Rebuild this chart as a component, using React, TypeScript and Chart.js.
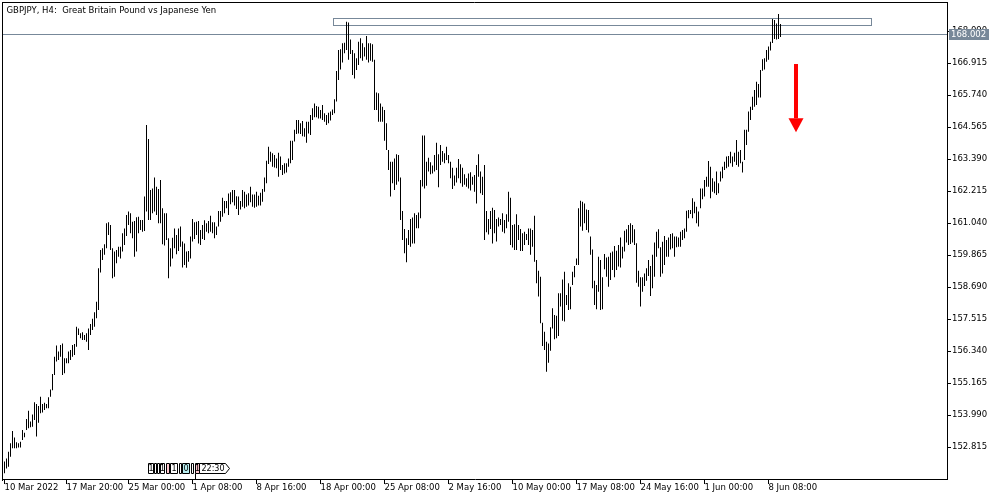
import React, { useEffect, useRef } from "react";
import { Chart, registerables } from "chart.js";

Chart.register(...registerables);

// ---- Data (GBPJPY H4, bar highs and lows) ----
const HIGHS = [
  152.28, 152.39, 152.64, 152.95, 153.40, 153.16, 152.99, 152.95, 153.01, 153.44,
  153.34, 153.84, 154.15, 153.75, 154.01, 154.46, 154.39, 154.32, 154.66, 154.39,
  154.44, 154.39, 154.64, 154.93, 155.50, 156.13, 156.54, 156.32, 156.56, 156.62,
  156.07, 156.07, 156.32, 156.38, 156.56, 156.60, 157.23, 157.17, 156.99, 157.03,
  156.93, 156.99, 157.17, 157.33, 157.52, 157.76, 158.15, 159.38, 160.05, 160.11,
  160.26, 161.03, 161.07, 160.97, 160.11, 159.99, 160.05, 160.17, 160.17, 160.66,
  160.84, 161.33, 161.46, 161.40, 161.09, 161.11, 161.25, 161.27, 161.15, 161.15,
  162.01, 164.64, 164.12, 162.25, 162.31, 162.71, 162.37, 162.29, 162.62, 161.58,
  161.40, 161.40, 160.48, 160.11, 160.50, 160.84, 160.60, 160.84, 160.91, 160.36,
  160.29, 159.99, 160.01, 160.54, 161.19, 161.07, 161.09, 161.11, 160.78, 160.97,
  161.14, 161.03, 161.11, 161.31, 161.07, 161.07, 160.91, 161.48, 161.48, 161.97,
  161.85, 161.85, 162.12, 162.17, 162.25, 162.25, 162.02, 162.01, 161.85, 162.25,
  162.19, 162.09, 162.13, 162.37, 162.09, 162.09, 162.19, 162.04, 162.15, 162.29,
  162.71, 163.33, 163.84, 163.66, 163.60, 163.54, 163.41, 163.62, 163.48, 163.17,
  163.23, 163.23, 163.41, 164.06, 164.06, 164.46, 164.82, 164.82, 164.70, 164.79,
  164.52, 164.76, 164.76, 165.01, 165.25, 165.43, 165.34, 165.31, 165.19, 165.37,
  165.07, 165.01, 165.09, 165.13, 165.21, 165.58, 166.62, 167.39, 167.42, 167.64,
  167.66, 168.43, 168.40, 167.78, 167.39, 167.27, 167.09, 167.70, 167.82, 167.64,
  167.49, 167.91, 167.64, 167.64, 167.60, 167.03, 165.83, 165.80, 165.43, 165.31,
  165.19, 164.70, 163.72, 163.29, 163.29, 163.41, 163.56, 163.54, 162.71, 161.48,
  160.82, 160.48, 160.78, 161.19, 161.24, 161.40, 161.33, 161.43, 162.62, 164.25,
  164.25, 163.29, 163.44, 163.27, 163.15, 163.54, 163.99, 163.56, 163.90, 163.68,
  163.60, 163.84, 163.54, 163.29, 163.07, 162.78, 163.07, 163.39, 163.20, 163.07,
  162.83, 162.68, 162.86, 162.90, 162.74, 162.80, 163.17, 163.56, 162.93, 162.74,
  163.17, 161.48, 161.19, 161.48, 161.60, 161.52, 161.19, 161.24, 161.19, 161.40,
  161.15, 161.36, 162.19, 161.97, 160.97, 160.99, 161.36, 160.97, 160.82, 160.66,
  160.72, 160.64, 160.84, 160.84, 160.78, 161.31, 159.68, 159.29, 159.07, 157.38,
  157.05, 156.68, 156.62, 157.21, 157.91, 157.66, 157.63, 158.46, 158.46, 158.97,
  159.25, 158.40, 158.83, 158.70, 159.25, 159.46, 159.74, 161.58, 161.86, 161.82,
  161.76, 161.54, 161.52, 160.54, 160.07, 158.92, 158.76, 159.80, 159.68, 159.05,
  159.90, 159.77, 159.80, 159.95, 159.99, 160.20, 160.02, 160.23, 160.51, 160.17,
  160.76, 160.81, 160.97, 161.03, 160.97, 160.81, 160.30, 159.29, 159.05, 159.05,
  159.19, 159.38, 159.68, 159.46, 159.87, 160.32, 160.72, 160.81, 160.15, 160.35,
  160.56, 160.42, 160.51, 160.64, 160.66, 160.54, 160.54, 160.51, 160.72, 160.78,
  160.84, 161.49, 161.52, 161.52, 161.95, 161.82, 161.64, 161.46, 162.31, 162.31,
  162.62, 162.74, 163.32, 163.11, 162.68, 162.56, 162.93, 162.50, 162.93, 163.11,
  163.29, 163.48, 163.50, 163.66, 163.48, 163.62, 164.09, 163.66, 163.72, 163.29,
  164.46, 164.46, 165.13, 165.31, 165.68, 165.92, 166.23, 166.14, 166.66, 167.05,
  167.09, 167.39, 167.52, 167.70, 168.53, 168.49, 168.37, 168.71, 168.35,
];

const LOWS = [
  151.85, 152.03, 152.09, 152.46, 152.77, 152.77, 152.77, 152.80, 152.80, 153.07,
  153.17, 153.44, 153.50, 153.54, 153.56, 153.81, 153.20, 153.71, 154.05, 154.08,
  154.17, 154.24, 154.24, 154.66, 154.90, 155.46, 155.95, 156.01, 156.13, 155.46,
  155.52, 155.89, 155.89, 156.01, 156.13, 156.19, 156.50, 156.93, 156.81, 156.74,
  156.74, 156.68, 156.38, 156.93, 157.11, 157.23, 157.54, 157.85, 159.22, 159.68,
  159.87, 160.11, 160.60, 160.05, 159.01, 159.07, 159.56, 159.80, 159.74, 159.99,
  160.23, 160.56, 160.97, 160.66, 160.48, 159.80, 159.99, 160.66, 160.78, 160.72,
  160.75, 161.46, 161.15, 161.15, 161.40, 161.46, 161.33, 161.03, 161.03, 160.26,
  160.21, 160.42, 159.01, 159.44, 159.74, 160.11, 159.89, 160.01, 160.17, 159.41,
  159.50, 159.40, 159.62, 159.74, 160.36, 160.45, 160.60, 160.29, 160.23, 160.45,
  160.42, 160.72, 160.66, 160.72, 160.66, 160.48, 160.60, 160.91, 161.09, 161.27,
  161.40, 161.58, 161.33, 161.73, 161.80, 161.68, 161.55, 161.33, 161.54, 161.64,
  161.58, 161.64, 161.68, 161.80, 161.64, 161.60, 161.64, 161.68, 161.68, 161.82,
  162.19, 162.50, 163.21, 163.29, 163.11, 163.08, 163.05, 162.74, 162.99, 162.80,
  162.86, 162.89, 163.11, 163.23, 163.35, 164.03, 164.31, 164.33, 164.31, 164.23,
  164.21, 163.99, 164.33, 164.27, 164.82, 164.92, 164.92, 164.88, 164.88, 164.82,
  164.76, 164.64, 164.70, 164.80, 165.01, 165.07, 165.50, 166.29, 166.68, 166.93,
  167.27, 167.39, 167.03, 167.25, 166.47, 166.35, 166.66, 166.84, 167.09, 167.00,
  167.15, 167.03, 166.93, 167.00, 166.96, 165.19, 165.19, 164.76, 164.76, 164.76,
  164.06, 163.72, 162.99, 162.01, 162.50, 162.25, 162.44, 162.56, 161.15, 160.42,
  159.93, 159.60, 160.23, 160.17, 160.29, 160.29, 160.85, 160.85, 161.21, 162.38,
  162.31, 162.41, 162.93, 162.83, 162.86, 162.93, 162.99, 162.35, 163.17, 163.29,
  163.23, 163.35, 163.23, 162.68, 162.29, 162.41, 162.53, 162.68, 162.50, 162.37,
  162.44, 162.37, 162.31, 162.23, 162.44, 162.19, 161.76, 162.74, 162.13, 162.07,
  160.42, 160.70, 160.62, 160.82, 160.29, 160.66, 160.36, 160.91, 160.97, 160.72,
  160.66, 160.85, 161.09, 160.23, 160.14, 160.05, 160.05, 160.42, 160.01, 160.01,
  160.23, 160.42, 160.23, 159.87, 160.17, 159.62, 158.83, 158.34, 157.36, 156.52,
  156.38, 155.58, 155.91, 156.35, 157.17, 156.77, 156.81, 156.89, 157.97, 157.45,
  157.42, 158.03, 157.85, 157.87, 158.76, 159.05, 159.50, 159.50, 160.91, 160.76,
  161.03, 160.78, 160.69, 159.87, 158.64, 158.03, 157.87, 158.52, 157.85, 157.87,
  159.34, 159.07, 158.70, 158.95, 159.31, 159.05, 159.31, 159.44, 159.41, 159.74,
  159.99, 160.32, 160.23, 160.27, 160.32, 160.23, 158.85, 158.70, 157.97, 158.52,
  158.73, 158.92, 159.09, 158.36, 158.64, 159.07, 159.80, 160.11, 159.07, 159.19,
  159.50, 159.80, 159.80, 160.07, 160.11, 159.80, 160.15, 160.17, 160.17, 160.42,
  160.48, 160.72, 161.21, 161.37, 161.21, 161.40, 161.03, 160.91, 161.58, 161.91,
  162.01, 162.37, 162.37, 161.95, 162.19, 162.13, 162.07, 162.13, 162.56, 162.68,
  162.99, 163.05, 163.11, 163.23, 163.11, 163.29, 163.17, 163.11, 163.23, 162.89,
  163.35, 163.90, 164.39, 164.82, 165.19, 165.31, 165.37, 165.65, 165.65, 166.63,
  166.68, 166.96, 167.03, 167.37, 167.65, 167.80, 167.78, 167.80, 167.87,
];

const Y_TICKS = [
  152.815, 153.99, 155.165, 156.34, 157.515, 158.69, 159.865, 161.04,
  162.215, 163.39, 164.565, 165.74, 166.915, 168.09,
];
const Y_MIN = 151.64;
const Y_MAX = 169.155;

const X_TICK_TIMES = [
  "10 Mar 16:00", "17 Mar 20:00", "25 Mar 00:00", "1 Apr 08:00", "8 Apr 16:00",
  "18 Apr 00:00", "25 Apr 08:00", "2 May 16:00", "10 May 00:00", "17 May 08:00",
  "24 May 16:00", "1 Jun 00:00", "8 Jun 08:00",
];
const X_TICK_LABELS = [
  "10 Mar 2022", "17 Mar 20:00", "25 Mar 00:00", "1 Apr 08:00", "8 Apr 16:00",
  "18 Apr 00:00", "25 Apr 08:00", "2 May 16:00", "10 May 00:00", "17 May 08:00",
  "24 May 16:00", "1 Jun 00:00", "8 Jun 08:00",
];

const TOTAL_SLOTS = 472; // bars + empty shift on the right
const CURRENT_PRICE = 168.002;
const TITLE = "GBPJPY, H4:  Great Britain Pound vs Japanese Yen";
const ZONE = { fromBar: 164.2, toBar: 433.2, top: 168.556, bottom: 168.299 };
const ARROW = { bar: 395.5, top: 166.878, headBase: 164.885, tip: 164.37 };
const WIDGET = [
  { from: 71.9, to: 74.2, fill: "#ffffff", text: "1" },
  { from: 74.7, to: 75.9, fill: "#ffffff", text: "" },
  { from: 76.2, to: 77.3, fill: "#ffffff", text: "" },
  { from: 77.6, to: 79.7, fill: "#ffffff", text: "1" },
  { from: 80.8, to: 82.0, fill: "#ffc8d0", text: "" },
  { from: 82.6, to: 86.4, fill: "#ffffff", text: "1" },
  { from: 87.0, to: 88.2, fill: "#ffffff", text: "" },
  { from: 88.9, to: 92.4, fill: "#b8eef0", text: "0" },
  { from: 93.0, to: 94.3, fill: "#ffffff", text: "" },
  { from: 95.0, to: 97.4, fill: "#ffc8d0", text: "1" },
  { from: 97.4, to: 112.4, fill: "#ffffff", text: "22:30", arrow: true },
];

const FONT = "DejaVu Sans";
const SLATE = "#778899";

const MONTHS = ["Jan", "Feb", "Mar", "Apr", "May", "Jun", "Jul", "Aug", "Sep", "Oct", "Nov", "Dec"];

function buildBarTimes(n: number): string[] {
  const out: string[] = [];
  let t = Date.UTC(2022, 2, 10, 16);
  while (out.length < n) {
    const d = new Date(t);
    const wd = d.getUTCDay();
    if (wd !== 0 && wd !== 6) {
      const hh = String(d.getUTCHours()).padStart(2, "0");
      out.push(`${d.getUTCDate()} ${MONTHS[d.getUTCMonth()]} ${hh}:00`);
    }
    t += 4 * 3600 * 1000;
  }
  return out;
}

const BAR_TIMES = buildBarTimes(TOTAL_SLOTS);

const overlayPlugin = {
  id: "mtOverlay",
  beforeDatasetsDraw(chart: any) {
    const { ctx, chartArea: a, scales } = chart;
    const xs = scales.x;
    const ys = scales.y;
    ctx.save();
    // frame (top and left)
    ctx.strokeStyle = "#000";
    ctx.lineWidth = 1;
    ctx.beginPath();
    ctx.moveTo(a.left - 1, 2.5);
    ctx.lineTo(a.right, 2.5);
    ctx.moveTo(2.5, a.top);
    ctx.lineTo(2.5, a.bottom + 2);
    ctx.stroke();
    // price line
    const py = Math.ceil(ys.getPixelForValue(CURRENT_PRICE)) + 0.5;
    ctx.strokeStyle = SLATE;
    ctx.beginPath();
    ctx.moveTo(a.left, py);
    ctx.lineTo(a.right, py);
    ctx.stroke();
    // zone rectangle
    const zx0 = Math.round(xs.getPixelForValue(ZONE.fromBar)) + 0.5;
    const zx1 = Math.round(xs.getPixelForValue(ZONE.toBar)) + 0.5;
    const zy0 = Math.round(ys.getPixelForValue(ZONE.top)) + 0.5;
    const zy1 = Math.round(ys.getPixelForValue(ZONE.bottom)) + 0.5;
    ctx.strokeRect(zx0, zy0, zx1 - zx0, zy1 - zy0);
    // title
    ctx.fillStyle = "#000";
    ctx.font = `8.5px "${FONT}"`;
    ctx.textBaseline = "middle";
    ctx.textAlign = "left";
    ctx.fillText(TITLE, a.left + 3.5, 10.5);
    ctx.restore();
  },
  afterDatasetsDraw(chart: any) {
    const { ctx, scales } = chart;
    const xs = scales.x;
    const ys = scales.y;
    ctx.save();
    const cx = Math.round(xs.getPixelForValue(ARROW.bar));
    const yTop = ys.getPixelForValue(ARROW.top);
    const yBase = ys.getPixelForValue(ARROW.headBase);
    const yTip = ys.getPixelForValue(ARROW.tip);
    ctx.fillStyle = "#ff0000";
    ctx.fillRect(cx - 2, yTop, 4, yBase - yTop);
    ctx.beginPath();
    ctx.moveTo(cx - 7.5, yBase);
    ctx.lineTo(cx + 7.5, yBase);
    ctx.lineTo(cx, yTip);
    ctx.closePath();
    ctx.fill();
    ctx.restore();
  },
  afterDraw(chart: any) {
    const { ctx, chartArea: a, scales } = chart;
    const xs = scales.x;
    const ys = scales.y;
    ctx.save();
    // current price label
    const py = Math.ceil(ys.getPixelForValue(CURRENT_PRICE)) + 0.5;
    ctx.fillStyle = SLATE;
    ctx.fillRect(a.right + 2, py - 5.5, 40, 11);
    ctx.fillStyle = "#ffffff";
    ctx.font = `8.5px "${FONT}"`;
    ctx.textBaseline = "middle";
    ctx.textAlign = "left";
    ctx.fillText(CURRENT_PRICE.toFixed(3), a.right + 4, py);
    // bottom widget
    const top = a.bottom - 15.5;
    const h = 10;
    ctx.strokeStyle = "#000";
    ctx.lineWidth = 1;
    ctx.font = `8px "${FONT}"`;
    ctx.textAlign = "center";
    WIDGET.forEach((w: any) => {
      const x0 = Math.round(xs.getPixelForValue(w.from)) + 0.5;
      const x1 = Math.round(xs.getPixelForValue(w.to)) + 0.5;
      ctx.beginPath();
      if (w.arrow) {
        ctx.moveTo(x0, top);
        ctx.lineTo(x1 - 4, top);
        ctx.lineTo(x1, top + h / 2);
        ctx.lineTo(x1 - 4, top + h);
        ctx.lineTo(x0, top + h);
        ctx.closePath();
      } else {
        ctx.rect(x0, top, x1 - x0, h);
      }
      ctx.fillStyle = w.fill;
      ctx.fill();
      ctx.stroke();
      if (w.text) {
        ctx.fillStyle = "#000";
        ctx.fillText(w.text, (x0 + x1 - (w.arrow ? 3 : 0)) / 2, top + h / 2 + 0.5);
      }
    });
    const mx = Math.round(xs.getPixelForValue(95)) + 0.5;
    ctx.beginPath();
    ctx.moveTo(mx, top + h);
    ctx.lineTo(mx, a.bottom);
    ctx.stroke();
    ctx.restore();
  },
};

export default function App() {
  const canvasRef = useRef<HTMLCanvasElement | null>(null);

  useEffect(() => {
    document.body.style.margin = "0";
    const canvas = canvasRef.current;
    if (!canvas) return;

    const barData = HIGHS.map((h, i) => ({ x: i, y: [LOWS[i], h] }));
    const tickFont = { family: FONT, size: 8.5 };

    const chart = new Chart(canvas, {
      type: "bar",
      data: {
        datasets: [
          {
            data: barData as any,
            backgroundColor: "#000000",
            borderWidth: 0,
            barThickness: 1,
            inflateAmount: 0,
            grouped: false,
          } as any,
        ],
      },
      options: {
        animation: false,
        responsive: false,
        devicePixelRatio: 1,
        events: [],
        layout: { padding: { left: 3, top: 2, right: 0, bottom: 0 } },
        plugins: {
          legend: { display: false },
          title: { display: false },
          tooltip: { enabled: false },
        },
        scales: {
          x: {
            type: "linear",
            offset: false,
            min: -0.75,
            max: TOTAL_SLOTS - 0.75,
            bounds: "data",
            afterBuildTicks: (s: any) => {
              s.ticks = X_TICK_TIMES.map((t) => ({ value: BAR_TIMES.indexOf(t) }));
            },
            afterFit: (s: any) => {
              s.height = 21;
              s.paddingLeft = 0;
              s.paddingRight = 0;
            },
            grid: { offset: false, drawOnChartArea: false, drawTicks: true, tickLength: 5, color: "#000" },
            border: { display: true, color: "#000", width: 1 },
            ticks: {
              autoSkip: false,
              maxRotation: 0,
              minRotation: 0,
              align: "start",
              padding: -1,
              color: "#000",
              font: tickFont,
              callback: (v: any) => {
                const idx = X_TICK_TIMES.indexOf(BAR_TIMES[Number(v)]);
                return idx >= 0 ? X_TICK_LABELS[idx] : "";
              },
            },
          } as any,
          y: {
            type: "linear",
            position: "right",
            min: Y_MIN,
            max: Y_MAX,
            bounds: "data",
            afterBuildTicks: (s: any) => {
              s.ticks = Y_TICKS.map((v) => ({ value: v }));
            },
            afterFit: (s: any) => {
              s.width = 53;
              s.paddingTop = 0;
              s.paddingBottom = 0;
            },
            grid: { drawOnChartArea: false, drawTicks: true, tickLength: 4, color: "#000" },
            border: { display: true, color: "#000", width: 1 },
            ticks: {
              autoSkip: false,
              padding: 1,
              color: "#000",
              font: tickFont,
              callback: (v: any) => Number(v).toFixed(3),
            },
          } as any,
        },
      },
      plugins: [overlayPlugin],
    });

    return () => chart.destroy();
  }, []);

  return (
    <div style={{ position: "absolute", left: 0, top: 0, width: 1000, height: 500, background: "#fff" }}>
      <canvas ref={canvasRef} width={1000} height={500} style={{ width: 1000, height: 500, display: "block" }} />
    </div>
  );
}
